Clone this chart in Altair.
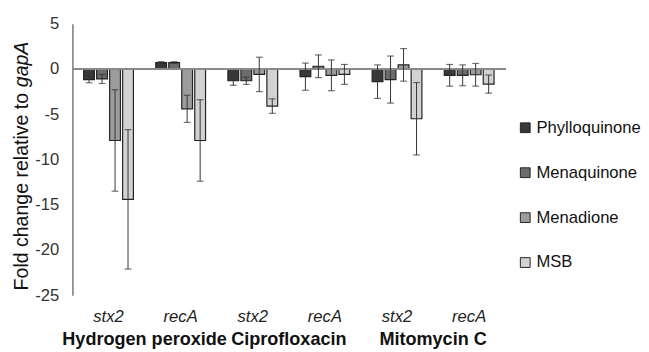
import altair as alt
import pandas as pd

treatments = ["Hydrogen peroxide", "Ciprofloxacin", "Mitomycin C"]
genes = ["stx2", "recA"]
series = ["Phylloquinone", "Menaquinone", "Menadione", "MSB"]
colors = ["#383838", "#6c6c6c", "#9c9c9c", "#d2d2d2"]

# values per series, order: HP stx2, HP recA, Cipro stx2, Cipro recA, Mito stx2, Mito recA
phylloquinone = [-1.17, 0.7, -1.3, -0.85, -1.4, -0.7]
menaquinone = [-1.1, 0.7, -1.3, 0.3, -1.17, -0.7]
menadione = [-7.9, -4.4, -0.6, -0.7, 0.45, -0.64]
msb = [-14.4, -7.9, -4.1, -0.6, -5.5, -1.67]

phylloquinone_err = [0.35, 0.1, 0.5, 1.5, 1.85, 1.2]
menaquinone_err = [0.5, 0.1, 0.4, 1.25, 2.6, 1.15]
menadione_err = [5.6, 1.5, 1.9, 1.7, 1.8, 1.25]
msb_err = [7.7, 4.5, 0.8, 1.1, 4.0, 1.0]

y_ticks = [5, 0, -5, -10, -15, -20, -25]

cats = [f"{t}|{g}" for t in treatments for g in genes]
vals = [phylloquinone, menaquinone, menadione, msb]
errs = [phylloquinone_err, menaquinone_err, menadione_err, msb_err]

rows = []
for s, v, e in zip(series, vals, errs):
    for c, vv, ee in zip(cats, v, e):
        rows.append({"cat": c, "series": s, "value": vv, "err": ee})
df = pd.DataFrame(rows)
df["lo"] = df["value"] - df["err"]
df["hi"] = df["value"] + df["err"]

grp = pd.DataFrame({"first": [f"{t}|{genes[0]}" for t in treatments], "name": treatments})

W, H = 443, 278
FONT = "Liberation Sans"

xscale = alt.Scale(domain=cats, paddingInner=0, paddingOuter=0)
xoscale = alt.Scale(domain=series, paddingInner=0.17, paddingOuter=0.86)
xenc = alt.X("cat:N", scale=xscale,
             axis=alt.Axis(title=None, domain=False, ticks=False, labelAngle=0,
                           labelExpr="split(datum.label, '|')[1]",
                           labelFontStyle="italic", labelFontSize=17, labelColor="#222",
                           labelPadding=14, labelFont=FONT))
xoff = alt.XOffset("series:N", scale=xoscale)
yscale = alt.Scale(domain=[-25, 5], nice=False)
yenc = alt.Y("value:Q", scale=yscale,
             axis=alt.Axis(title=None, values=y_ticks, ticks=False, grid=False,
                           domainColor="#555", domainWidth=1.2,
                           labelExpr="toString(datum.value)",
                           labelFontSize=17, labelColor="#333", labelPadding=14,
                           labelFont=FONT))

base = alt.Chart(df)

zero = base.mark_rule(color="#8a8a8a", strokeWidth=1.5).encode(y=alt.datum(0, scale=yscale))

bars = base.mark_bar(stroke="#222", strokeWidth=1.2).encode(
    x=xenc, xOffset=xoff, y=yenc,
    fill=alt.Fill("series:N",
                  scale=alt.Scale(domain=series, range=colors),
                  legend=alt.Legend(title=None, orient="none", legendX=455, legendY=98,
                                    symbolType="square", symbolSize=100,
                                    symbolStrokeColor="#222", symbolStrokeWidth=1,
                                    labelFontSize=17, labelFont=FONT, labelColor="#111",
                                    rowPadding=28, labelOffset=3)),
)

xe = alt.X("cat:N", scale=xscale)
xo = alt.XOffset("series:N", scale=xoscale)
err_rule = base.mark_rule(color="#333", strokeWidth=1).encode(
    x=xe, xOffset=xo, y=alt.Y("lo:Q", scale=yscale), y2="hi:Q")
cap_lo = base.mark_tick(color="#333", size=7, thickness=1.2).encode(
    x=xe, xOffset=xo, y=alt.Y("lo:Q", scale=yscale))
cap_hi = base.mark_tick(color="#333", size=7, thickness=1.2).encode(
    x=xe, xOffset=xo, y=alt.Y("hi:Q", scale=yscale))

grp_text = alt.Chart(grp).mark_text(fontSize=18.5, fontWeight="bold", font=FONT,
                                    color="#111", baseline="middle").encode(
    x=alt.X("first:N", scale=xscale, bandPosition=1), y=alt.value(H + 45), text="name:N")

title_a = alt.Chart(pd.DataFrame({"t": ["Fold change relative to "]})).mark_text(
    angle=270, align="left", baseline="middle", fontSize=20, font=FONT, color="#111").encode(
    x=alt.value(-52), y=alt.value(273), text="t:N")
title_b = alt.Chart(pd.DataFrame({"t": ["gapA"]})).mark_text(
    angle=270, align="left", baseline="middle", fontSize=20, font=FONT, color="#111",
    fontStyle="italic").encode(
    x=alt.value(-52), y=alt.value(65), text="t:N")

chart = alt.layer(bars, zero, err_rule, cap_lo, cap_hi, grp_text, title_a, title_b).properties(
    width=W, height=H, padding={"left": 4, "top": 3, "right": 0, "bottom": 0}
).configure_view(stroke=None).configure_axis(labelFont=FONT)

chart.save("out.html", embed_options={"renderer": "svg", "actions": False})
